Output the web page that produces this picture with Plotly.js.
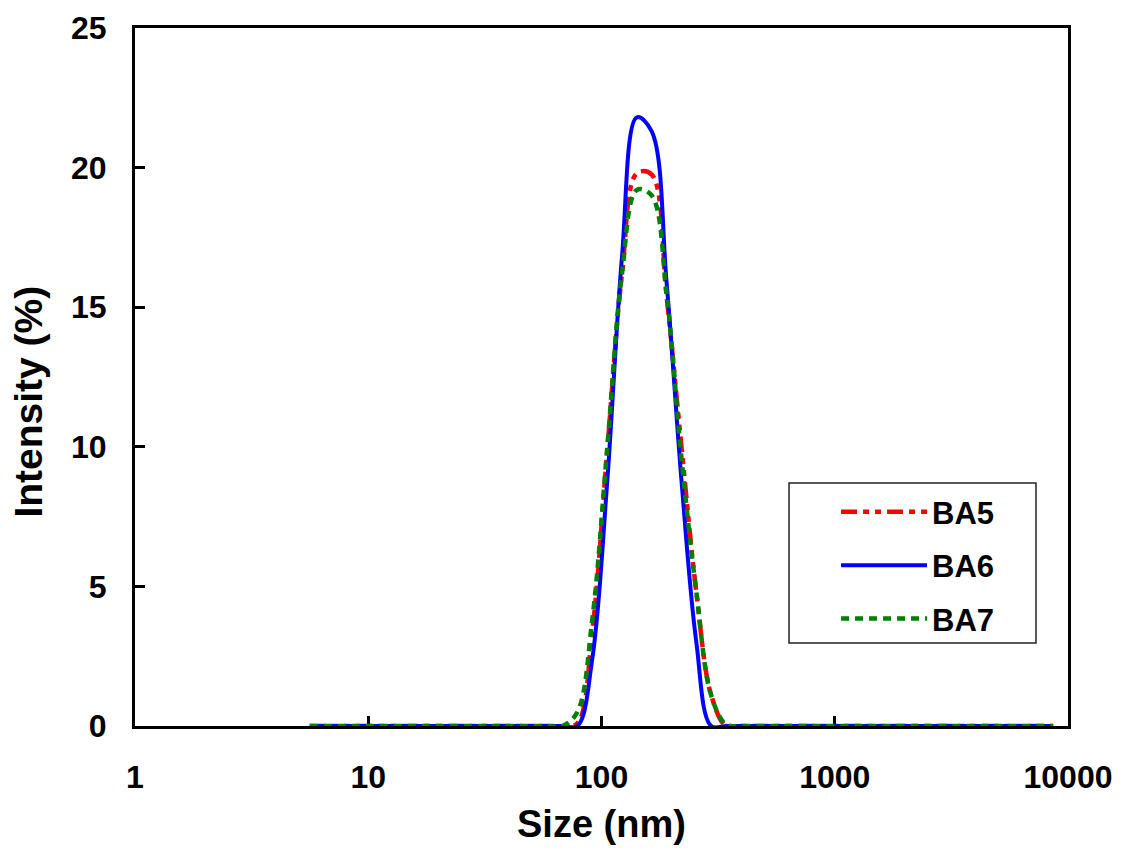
<!DOCTYPE html>
<html>
<head>
<meta charset="utf-8">
<script src="https://cdn.plot.ly/plotly-3.0.1.min.js"></script>
<style>
  html, body { margin: 0; padding: 0; background: #ffffff; }
  #chart { width: 1121px; height: 852px; }
</style>
</head>
<body>
<div id="chart"></div>
<script>
// Size bins (nm)
var sizeNm = [5.615, 6.503, 7.531, 8.721, 10.10, 11.70, 13.54, 15.69, 18.17, 21.04,
  24.36, 28.21, 32.67, 37.84, 43.82, 50.75, 58.77, 68.06, 78.82, 91.28,
  105.7, 122.4, 141.8, 164.2, 190.1, 220.2, 255.0, 295.3, 342.0, 396.1,
  458.7, 531.2, 615.1, 712.4, 825.0, 955.4, 1106, 1281, 1484, 1718,
  1990, 2305, 2669, 3091, 3580, 4145, 4801, 5560, 6439, 7456, 8635];

// Intensity (%) per bin
var ba5 = [0, 0, 0, 0, 0, 0, 0, 0, 0, 0,
  0, 0, 0, 0, 0, 0, 0, 0, 0.1, 3.4,
  9.8, 16.2, 19.8, 19.75, 15.4, 10.0, 4.8, 1.1, 0, 0,
  0, 0, 0, 0, 0, 0, 0, 0, 0, 0,
  0, 0, 0, 0, 0, 0, 0, 0, 0, 0, 0];
var ba6 = [0, 0, 0, 0, 0, 0, 0, 0, 0, 0,
  0, 0, 0, 0, 0, 0, 0, 0, 0, 2.4,
  8.7, 16.8, 21.8, 21.3, 15.9, 8.8, 3.0, 0, 0, 0,
  0, 0, 0, 0, 0, 0, 0, 0, 0, 0,
  0, 0, 0, 0, 0, 0, 0, 0, 0, 0, 0];
var ba7 = [0, 0, 0, 0, 0, 0, 0, 0, 0, 0,
  0, 0, 0, 0, 0, 0, 0, 0, 0.5, 3.8,
  9.9, 16.2, 19.2, 19.0, 15.5, 9.6, 4.8, 1.1, 0.05, 0,
  0, 0, 0, 0, 0, 0, 0, 0, 0, 0,
  0, 0, 0, 0, 0, 0, 0, 0, 0, 0, 0];

var seriesNames = ['BA5', 'BA6', 'BA7'];
var xTickVals = [1, 10, 100, 1000, 10000];
var xTickText = ['1', '10', '100', '1000', '10000'];
var yTickVals = [0, 5, 10, 15, 20, 25];

var FONT = 'Liberation Sans, Arial, Helvetica, sans-serif';

var traces = [
  { x: sizeNm, y: ba5, name: seriesNames[0], legendgroup: 'g1', type: 'scatter', mode: 'lines',
    line: { color: '#FF0000', width: 4.5, dash: '16px,6px,6px,6px,6px,6px', shape: 'spline', smoothing: 1 } },
  { x: sizeNm, y: ba6, name: seriesNames[1], legendgroup: 'g2', type: 'scatter', mode: 'lines',
    line: { color: '#0000FF', width: 4, shape: 'spline', smoothing: 1 } },
  { x: sizeNm, y: ba7, name: seriesNames[2], legendgroup: 'g3', type: 'scatter', mode: 'lines',
    line: { color: '#008000', width: 4.5, dash: '8px,6px', shape: 'spline', smoothing: 1 } }
];

var layout = {
  width: 1121, height: 852,
  margin: { l: 135, r: 53, t: 28, b: 126, pad: 0 },
  paper_bgcolor: '#ffffff', plot_bgcolor: '#ffffff',
  font: { family: FONT, color: '#000000', size: 32, weight: 'bold' },
  showlegend: true,
  xaxis: {
    type: 'log', range: [0, 4],
    tickmode: 'array', tickvals: xTickVals, ticktext: xTickText,
    ticks: 'inside', ticklen: 10, tickwidth: 3, tickcolor: '#000',
    showline: true, linewidth: 3, linecolor: '#000', mirror: true,
    showgrid: false, zeroline: false, layer: 'below traces',
    tickfont: { family: FONT, size: 32, weight: 'bold', color: '#000' },
    ticklabelstandoff: 21, automargin: false
  },
  yaxis: {
    range: [0, 25],
    tickmode: 'array', tickvals: yTickVals,
    ticks: 'inside', ticklen: 10, tickwidth: 3, tickcolor: '#000',
    showline: true, linewidth: 3, linecolor: '#000', mirror: true,
    showgrid: false, zeroline: false, layer: 'below traces',
    tickfont: { family: FONT, size: 32, weight: 'bold', color: '#000' },
    ticklabelstandoff: 19, automargin: false
  },
  legend: {
    x: 0.7514, y: 0.345, xanchor: 'left', yanchor: 'top',
    bgcolor: 'rgba(0,0,0,0)', borderwidth: 0,
    itemwidth: 86, traceorder: 'grouped', tracegroupgap: 10,
    font: { family: FONT, size: 31, weight: 'bold', color: '#000' }
  },
  shapes: [
    { type: 'rect', xref: 'paper', yref: 'paper', x0: 0.701, x1: 0.9657, y0: 0.1189, y1: 0.3481,
      line: { color: '#222', width: 1.5 }, fillcolor: 'rgba(0,0,0,0)', layer: 'below' }
  ],
  annotations: [
    { text: 'Size (nm)', xref: 'paper', yref: 'paper', x: 0.5, y: -0.1404,
      xanchor: 'center', yanchor: 'middle', showarrow: false,
      font: { family: FONT, size: 38, weight: 'bold', color: '#000' } },
    { text: 'Intensity (%)', xref: 'paper', yref: 'paper', x: -0.1145, y: 0.465,
      xanchor: 'center', yanchor: 'middle', showarrow: false, textangle: -90,
      font: { family: FONT, size: 39, weight: 'bold', color: '#000' } }
  ]
};

Plotly.newPlot('chart', traces, layout, { displayModeBar: false, staticPlot: true });
</script>
</body>
</html>
